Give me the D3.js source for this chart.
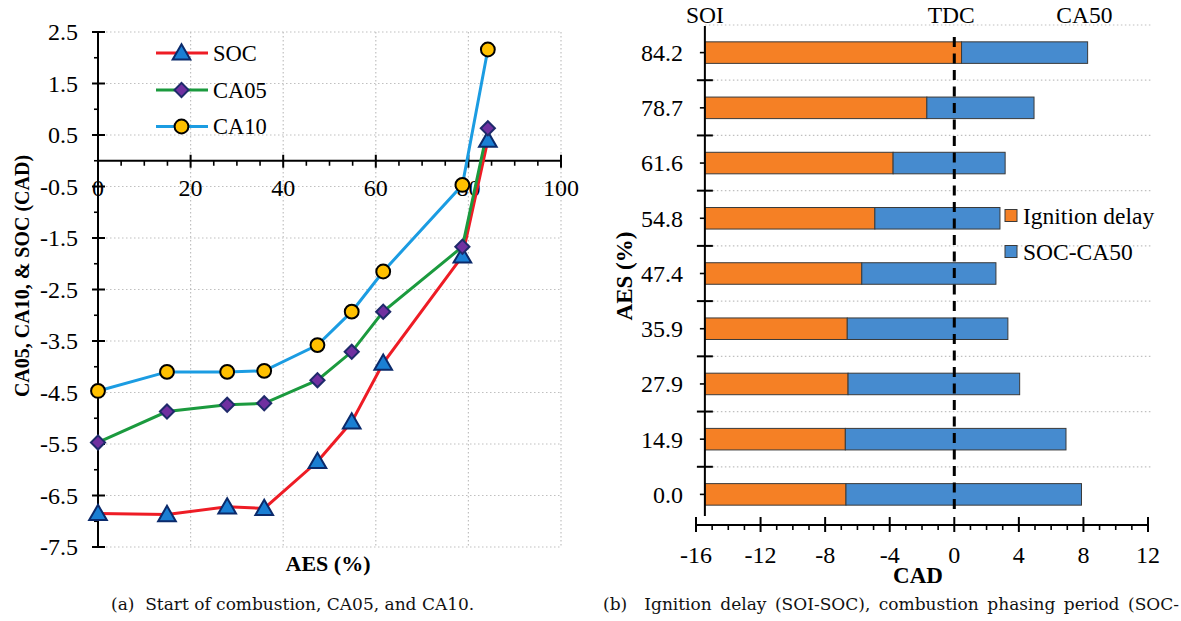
<!DOCTYPE html>
<html><head><meta charset="utf-8">
<script src="https://cdn.jsdelivr.net/npm/d3@7"></script>
<style>
body{margin:0;background:#fff;position:relative;width:1181px;height:621px;overflow:hidden;}
svg{position:absolute;left:0;top:0;}
text{font-family:"Liberation Serif","Times New Roman",serif;fill:#000;}
.cap{position:absolute;font-family:"DejaVu Serif",serif;font-size:17px;line-height:20px;color:#111;white-space:nowrap;}
#capb{white-space:normal;text-align:justify;text-align-last:justify;}
</style></head>
<body><svg id="c" width="1181" height="621"></svg>
<div class="cap" id="capa" style="left:111px;top:594px;"></div>
<div class="cap" id="capb" style="left:603px;top:594px;width:576px;"></div>
<script>
// ---- Left chart data ----
const aes = [0, 14.9, 27.9, 35.9, 47.4, 54.8, 61.6, 78.7, 84.2];
const soc  = [-6.85, -6.87, -6.72, -6.75, -5.84, -5.07, -3.93, -1.85, 0.40];
const ca05 = [-5.47, -4.87, -4.74, -4.71, -4.26, -3.71, -2.93, -1.67, 0.63];
const ca10 = [-4.47, -4.10, -4.10, -4.08, -3.58, -2.93, -2.15, -0.47, 2.16];
const leftYTicks = [2.5, 1.5, 0.5, -0.5, -1.5, -2.5, -3.5, -4.5, -5.5, -6.5, -7.5];
const leftXTicks = [0, 20, 40, 60, 80, 100];

// ---- Right chart data ----
const aesLabels = ["84.2", "78.7", "61.6", "54.8", "47.4", "35.9", "27.9", "14.9", "0.0"];
const soi = -15.45;
const socR = [0.45, -1.70, -3.79, -4.92, -5.73, -6.63, -6.58, -6.75, -6.71];
const ca50 = [8.26, 4.94, 3.15, 2.83, 2.58, 3.32, 4.05, 6.92, 7.88];
const rightXTicks = [-16, -12, -8, -4, 0, 4, 8, 12];

const captionA = "(a)\u00a0\u00a0Start of combustion, CA05, and CA10.";
const captionB = "(b)\u00a0\u00a0Ignition delay (SOI-SOC), combustion phasing period (SOC-";

const svg = d3.select("#c");
const grid = "#c0c0c0";

// ================= LEFT =================
const x = d3.scaleLinear().domain([0, 100]).range([98, 561]);
const y = d3.scaleLinear().domain([-7.5, 2.5]).range([547, 32]);
const L = svg.append("g");

L.selectAll(".hg").data(leftYTicks).join("line")
  .attr("x1", x(0)).attr("x2", x(100)).attr("y1", d => y(d)).attr("y2", d => y(d))
  .attr("stroke", grid).attr("stroke-width", 1.2).attr("stroke-dasharray", "1.5,2.5");
L.selectAll(".vg").data(leftXTicks.slice(1)).join("line")
  .attr("x1", d => x(d)).attr("x2", d => x(d)).attr("y1", y(2.5)).attr("y2", y(-7.5))
  .attr("stroke", grid).attr("stroke-width", 1.2).attr("stroke-dasharray", "1.5,2.5");

L.append("line").attr("x1", x(0)).attr("x2", x(0)).attr("y1", y(2.5)).attr("y2", y(-7.5))
  .attr("stroke", "#000").attr("stroke-width", 2);
L.selectAll(".ymaj").data(leftYTicks).join("line")
  .attr("x1", x(0) - 6).attr("x2", x(0) + 7).attr("y1", d => y(d)).attr("y2", d => y(d))
  .attr("stroke", "#000").attr("stroke-width", 2);
L.selectAll(".ymin").data(d3.range(-7.0, 2.5, 1)).join("line")
  .attr("x1", x(0) - 4).attr("x2", x(0)).attr("y1", d => y(d)).attr("y2", d => y(d))
  .attr("stroke", "#000").attr("stroke-width", 1.6);
L.selectAll(".ylab").data(leftYTicks).join("text")
  .attr("x", 78).attr("y", d => y(d)).attr("dy", "0.35em").attr("text-anchor", "end")
  .attr("font-size", 24).text(d => d.toFixed(1));

L.append("line").attr("x1", x(0)).attr("x2", x(100)).attr("y1", y(0)).attr("y2", y(0))
  .attr("stroke", "#000").attr("stroke-width", 2);
L.selectAll(".xmaj").data(leftXTicks).join("line")
  .attr("x1", d => x(d)).attr("x2", d => x(d)).attr("y1", y(0) - 6).attr("y2", y(0) + 7)
  .attr("stroke", "#000").attr("stroke-width", 2);
L.selectAll(".xmin").data(d3.range(5, 100, 5).filter(d => d % 20 !== 0)).join("line")
  .attr("x1", d => x(d)).attr("x2", d => x(d)).attr("y1", y(0)).attr("y2", y(0) + 5)
  .attr("stroke", "#000").attr("stroke-width", 1.6);
L.selectAll(".xlab").data(leftXTicks).join("text")
  .attr("x", d => x(d)).attr("y", 188).attr("dy", "0.35em").attr("text-anchor", "middle")
  .attr("font-size", 24).text(d => d);

L.append("text").attr("x", 328).attr("y", 563).attr("dy", "0.35em").attr("text-anchor", "middle")
  .attr("font-size", 22).attr("font-weight", "bold").text("AES (%)");
L.append("text").attr("transform", "translate(22,276) rotate(-90)").attr("dy", "0.35em")
  .attr("text-anchor", "middle").attr("font-size", 20).attr("font-weight", "bold")
  .text("CA05, CA10, & SOC (CAD)");

const series = [
  {name: "SOC", vals: soc, line: "#ee1c25", marker: "tri", fill: "#1a7fd4", stroke: "#0b2a6b"},
  {name: "CA05", vals: ca05, line: "#1b9a3e", marker: "dia", fill: "#7030a0", stroke: "#1f2a6b"},
  {name: "CA10", vals: ca10, line: "#1b9ce2", marker: "cir", fill: "#ffc000", stroke: "#000"}
];
const line = d3.line();

function drawMarker(g, s, cx, cy) {
  let d, tr = `translate(${cx},${cy})`;
  if (s.marker === "tri") { d = d3.symbol().type(d3.symbolTriangle).size(135)(); tr = `translate(${cx},${cy + 1.5})`; }
  else if (s.marker === "dia") { d = d3.symbol().type(d3.symbolSquare).size(100)(); tr += " rotate(45)"; }
  else { d = d3.symbol().type(d3.symbolCircle).size(150)(); }
  g.append("path").attr("d", d).attr("transform", tr)
    .attr("fill", s.fill).attr("stroke", s.stroke).attr("stroke-width", 2);
}

series.forEach(s => {
  const pts = aes.map((a, i) => [x(a), y(s.vals[i])]);
  L.append("path").attr("d", line(pts)).attr("fill", "none")
    .attr("stroke", s.line).attr("stroke-width", 3);
});
series.forEach(s => {
  aes.forEach((a, i) => drawMarker(L, s, x(a), y(s.vals[i])));
});

const legY = [53, 90, 126.5];
series.forEach((s, i) => {
  L.append("line").attr("x1", 156).attr("x2", 208).attr("y1", legY[i]).attr("y2", legY[i])
    .attr("stroke", s.line).attr("stroke-width", 3);
  drawMarker(L, s, 181.5, legY[i]);
  L.append("text").attr("x", 213).attr("y", legY[i]).attr("dy", "0.35em")
    .attr("font-size", 22.5).text(s.name);
});

// ================= RIGHT =================
const xr = d3.scaleLinear().domain([-16, 12]).range([696, 1148]);
const yr = d3.scaleBand().domain(aesLabels).range([25, 522]).paddingInner(0.61).paddingOuter(0.305);
const step = yr.step();
const R = svg.append("g");
const ax0 = xr(soi);

const bounds = aesLabels.map(l => yr(l) - yr.paddingOuter() * step);
R.selectAll(".g").data(bounds).join("line")
  .attr("x1", ax0).attr("x2", 1151).attr("y1", d => d).attr("y2", d => d)
  .attr("stroke", grid).attr("stroke-width", 1.2).attr("stroke-dasharray", "1.5,2.5");

aesLabels.forEach((l, i) => {
  R.append("rect").attr("x", xr(soi)).attr("y", yr(l)).attr("height", yr.bandwidth())
    .attr("width", xr(socR[i]) - xr(soi)).attr("fill", "#f58025").attr("stroke", "#3a3a3a").attr("stroke-width", 1);
  R.append("rect").attr("x", xr(socR[i])).attr("y", yr(l)).attr("height", yr.bandwidth())
    .attr("width", xr(ca50[i]) - xr(socR[i])).attr("fill", "#468bcf").attr("stroke", "#3a3a3a").attr("stroke-width", 1);
});

R.append("line").attr("x1", xr(0)).attr("x2", xr(0)).attr("y1", 37).attr("y2", 515)
  .attr("stroke", "#000").attr("stroke-width", 3).attr("stroke-dasharray", "10,6.5");

R.append("line").attr("x1", ax0).attr("x2", ax0).attr("y1", 26).attr("y2", 516)
  .attr("stroke", "#000").attr("stroke-width", 2);
R.selectAll(".bt").data(bounds.slice(1)).join("line")
  .attr("x1", ax0 - 8).attr("x2", ax0 + 8).attr("y1", d => d).attr("y2", d => d)
  .attr("stroke", "#000").attr("stroke-width", 2);
R.selectAll(".ct").data(aesLabels).join("line")
  .attr("x1", ax0 - 5).attr("x2", ax0).attr("y1", d => yr(d) + yr.bandwidth() / 2).attr("y2", d => yr(d) + yr.bandwidth() / 2)
  .attr("stroke", "#000").attr("stroke-width", 1.6);
R.selectAll(".yl").data(aesLabels).join("text")
  .attr("x", 683).attr("y", d => yr(d) + yr.bandwidth() / 2).attr("dy", "0.35em")
  .attr("text-anchor", "end").attr("font-size", 24).text(d => d);

R.append("line").attr("x1", xr(-16)).attr("x2", xr(12)).attr("y1", 525).attr("y2", 525)
  .attr("stroke", "#000").attr("stroke-width", 2);
R.selectAll(".xM").data(rightXTicks).join("line")
  .attr("x1", d => xr(d)).attr("x2", d => xr(d)).attr("y1", 517).attr("y2", 532)
  .attr("stroke", "#000").attr("stroke-width", 2);
R.selectAll(".xm").data(d3.range(-15, 12, 1).filter(d => d % 4 !== 0)).join("line")
  .attr("x1", d => xr(d)).attr("x2", d => xr(d)).attr("y1", 525).attr("y2", 530)
  .attr("stroke", "#000").attr("stroke-width", 1.6);
R.selectAll(".xl").data(rightXTicks).join("text")
  .attr("x", d => xr(d)).attr("y", 555).attr("dy", "0.35em").attr("text-anchor", "middle")
  .attr("font-size", 24).text(d => d);

R.append("text").attr("x", 918).attr("y", 575).attr("dy", "0.35em").attr("text-anchor", "middle")
  .attr("font-size", 23).attr("font-weight", "bold").text("CAD");
R.append("text").attr("transform", "translate(624,276) rotate(-90)").attr("dy", "0.35em")
  .attr("text-anchor", "middle").attr("font-size", 23).attr("font-weight", "bold").text("AES (%)");

const topLabels = [{t: "SOI", v: soi}, {t: "TDC", v: -0.19}, {t: "CA50", v: 8.06}];
R.selectAll(".tl").data(topLabels).join("text")
  .attr("x", d => xr(d.v)).attr("y", 15).attr("dy", "0.35em").attr("text-anchor", "middle")
  .attr("font-size", 23.5).text(d => d.t);

const rleg = [{t: "Ignition delay", c: "#f58025", y: 215.5}, {t: "SOC-CA50", c: "#468bcf", y: 251.5}];
rleg.forEach(d => {
  R.append("rect").attr("x", 1005).attr("y", d.y - 6).attr("width", 12).attr("height", 12)
    .attr("fill", d.c).attr("stroke", "#3a3a3a").attr("stroke-width", 1);
  R.append("text").attr("x", 1023).attr("y", d.y).attr("dy", "0.35em").attr("font-size", 23.5).text(d.t);
});

// captions (HTML, justified like the reference)
d3.select("#capa").text(captionA);
d3.select("#capb").text(captionB);
</script></body></html>
